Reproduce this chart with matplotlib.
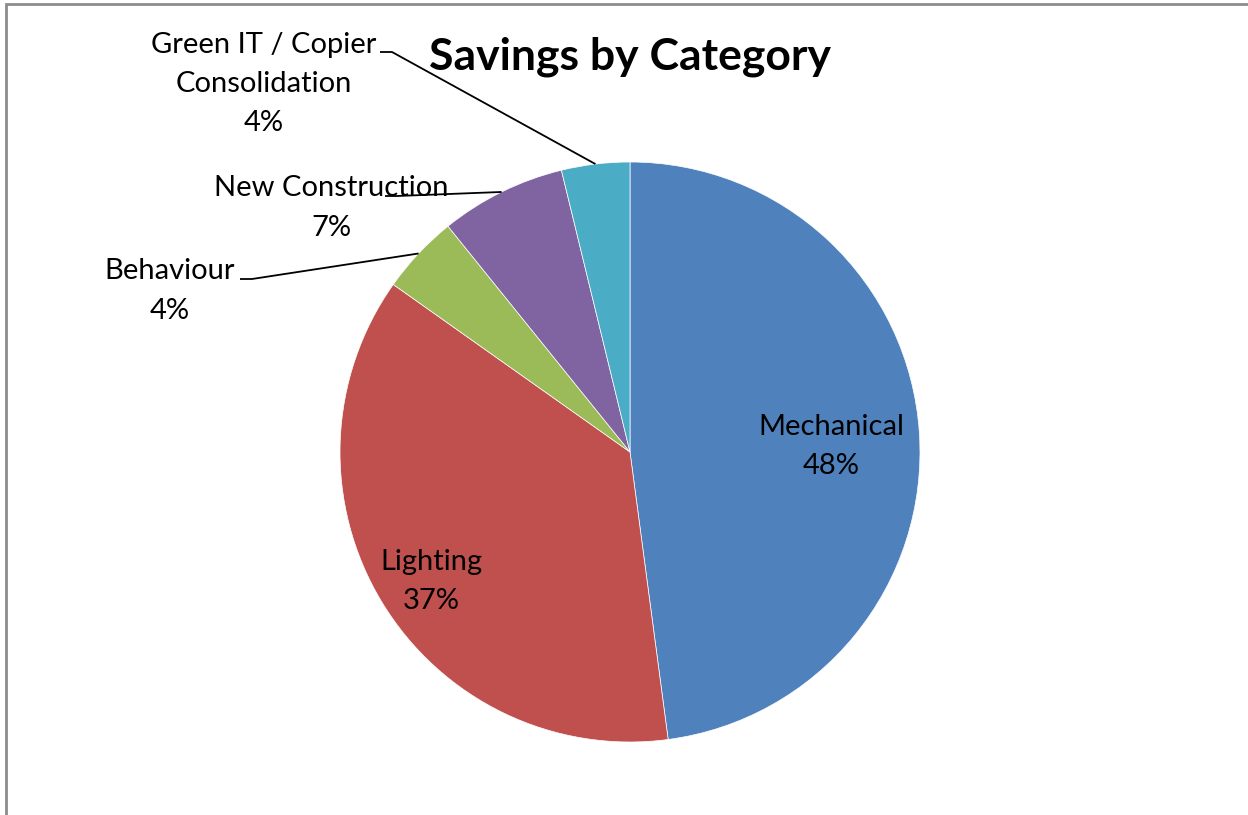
import matplotlib
matplotlib.use("Agg")
import numpy as np
from matplotlib import pyplot as plt
from matplotlib.patches import Rectangle

categories = ["Mechanical", "Lighting", "Behaviour", "New Construction",
              "Green IT / Copier\nConsolidation"]
savings = [47.9, 36.9, 4.4, 7.0, 3.8]
colors = ["#4F81BD", "#C0504D", "#9BBB59", "#8064A2", "#4BACC6"]

plt.rcParams["font.family"] = ["Lato", "DejaVu Sans"]

W, H = 1248, 815
fig = plt.figure(figsize=(W / 100, H / 100), dpi=100)
ax = fig.add_axes([0, 0, 1, 1])

cx, cy, r = 630, H - 452, 290
wedges, _ = ax.pie(savings, colors=colors, startangle=90, counterclock=False,
                   center=(cx, cy), radius=r, frame=True,
                   wedgeprops=dict(edgecolor="white", linewidth=0.5))
ax.set_xlim(0, W)
ax.set_ylim(0, H)
ax.set_aspect("equal")
ax.axis("off")

pct = [f"{round(v):d}%" for v in savings]
fs = 21
ls = 1.62

# inside labels: fraction of radius along mid angle, plus a small drop
inside = {0: 0.69, 1: 0.81}
# outside labels: text centre and leader line start
outside = {
    2: ((170, H - 291), (240, H - 279)),
    3: ((331, H - 208), (385, H - 196)),
    4: ((264, H - 84), (380, H - 52)),
}

for i, w in enumerate(wedges):
    mid = np.deg2rad((w.theta1 + w.theta2) / 2)
    label = f"{categories[i]}\n{pct[i]}"
    if i in inside:
        d = inside[i] * r
        ax.text(cx + d * np.cos(mid) + 2, cy + d * np.sin(mid) - 8, label,
                ha="center", va="center", fontsize=fs, linespacing=ls)
    else:
        (tx, ty), (lx, ly) = outside[i]
        ax.text(tx, ty, label, ha="center", va="center", fontsize=fs,
                linespacing=ls)
        ex, ey = cx + r * np.cos(mid), cy + r * np.sin(mid)
        ax.plot([lx, lx + 12, ex], [ly, ly, ey], color="black", lw=1.3,
                solid_capstyle="butt")

ax.text(cx, H - 57, "Savings by Category", ha="center", va="center",
        fontsize=32, fontweight="bold")

fig.patches.append(Rectangle((6, -10), W + 20, H - 4 + 10, transform=None,
                             fill=False, edgecolor="#8c8c8c", lw=2))

fig.savefig("out.png", dpi=100)
